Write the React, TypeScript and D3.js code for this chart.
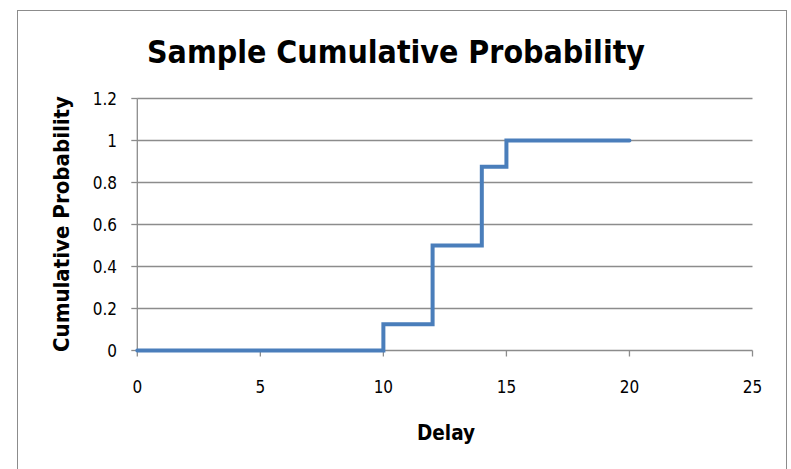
import React from "react";
import * as d3 from "d3";

const delays = [0, 10, 12, 14, 15, 20];
const probs = [0, 0.125, 0.5, 0.875, 1, 1];
const xTicks = [0, 5, 10, 15, 20, 25];
const yTicks = [0, 0.2, 0.4, 0.6, 0.8, 1, 1.2];

const W = 791;
const H = 469;
const FONT = "'Liberation Sans Narrow', 'DejaVu Sans Condensed', sans-serif";

export default function App() {
  const x = d3.scaleLinear().domain([0, 25]).range([137.3, 752.5]);
  const y = d3.scaleLinear().domain([0, 1.2]).range([350.5, 98.5]);
  const pts = delays.map((d, i) => [d, probs[i]] as [number, number]);
  const line = d3
    .line<[number, number]>()
    .x((d) => x(d[0]))
    .y((d) => y(d[1]))
    .curve(d3.curveStepAfter);
  const grid = "#8c8c8c";
  return (
    <svg
      width={W}
      height={H}
      style={{ position: "absolute", left: 0, top: 0, background: "#fff" }}
    >
      <rect x={17.5} y={10.5} width={769} height={470} fill="#fff" stroke="#8c8c8c" strokeWidth={1} />
      <text
        x={396}
        y={63}
        textAnchor="middle"
        fontFamily={FONT}
        fontWeight="bold"
        fontSize={32}
        textLength={498}
        lengthAdjust="spacingAndGlyphs"
        fill="#000"
      >
        Sample Cumulative Probability
      </text>
      {yTicks.map((t) => (
        <g key={"y" + t}>
          <line x1={x(0)} x2={x(25)} y1={y(t)} y2={y(t)} stroke={grid} strokeWidth={1.3} />
          <line x1={x(0) - 6} x2={x(0)} y1={y(t)} y2={y(t)} stroke={grid} strokeWidth={1.3} />
          <text
            x={117}
            y={y(t) + 6}
            textAnchor="end"
            fontFamily={FONT}
            fontSize={17}
            fill="#000"
          >
            {String(t)}
          </text>
        </g>
      ))}
      <line x1={x(0)} x2={x(0)} y1={y(1.2)} y2={y(0)} stroke={grid} strokeWidth={1.3} />
      {xTicks.map((t) => (
        <g key={"x" + t}>
          <line x1={x(t)} x2={x(t)} y1={y(0)} y2={y(0) + 6} stroke={grid} strokeWidth={1.3} />
          <text
            x={x(t)}
            y={393}
            textAnchor="middle"
            fontFamily={FONT}
            fontSize={17}
            fill="#000"
          >
            {String(t)}
          </text>
        </g>
      ))}
      <path
        d={line(pts) || ""}
        fill="none"
        stroke="#4a7ebb"
        strokeWidth={4}
        strokeLinejoin="miter"
        strokeLinecap="round"
      />
      <text
        x={446}
        y={440}
        textAnchor="middle"
        fontFamily={FONT}
        fontWeight="bold"
        fontSize={21}
        textLength={58}
        lengthAdjust="spacingAndGlyphs"
        fill="#000"
      >
        Delay
      </text>
      <text
        transform={`translate(69,224) rotate(-90)`}
        textAnchor="middle"
        fontFamily={FONT}
        fontWeight="bold"
        fontSize={21}
        textLength={256}
        lengthAdjust="spacingAndGlyphs"
        fill="#000"
      >
        Cumulative Probability
      </text>
    </svg>
  );
}
